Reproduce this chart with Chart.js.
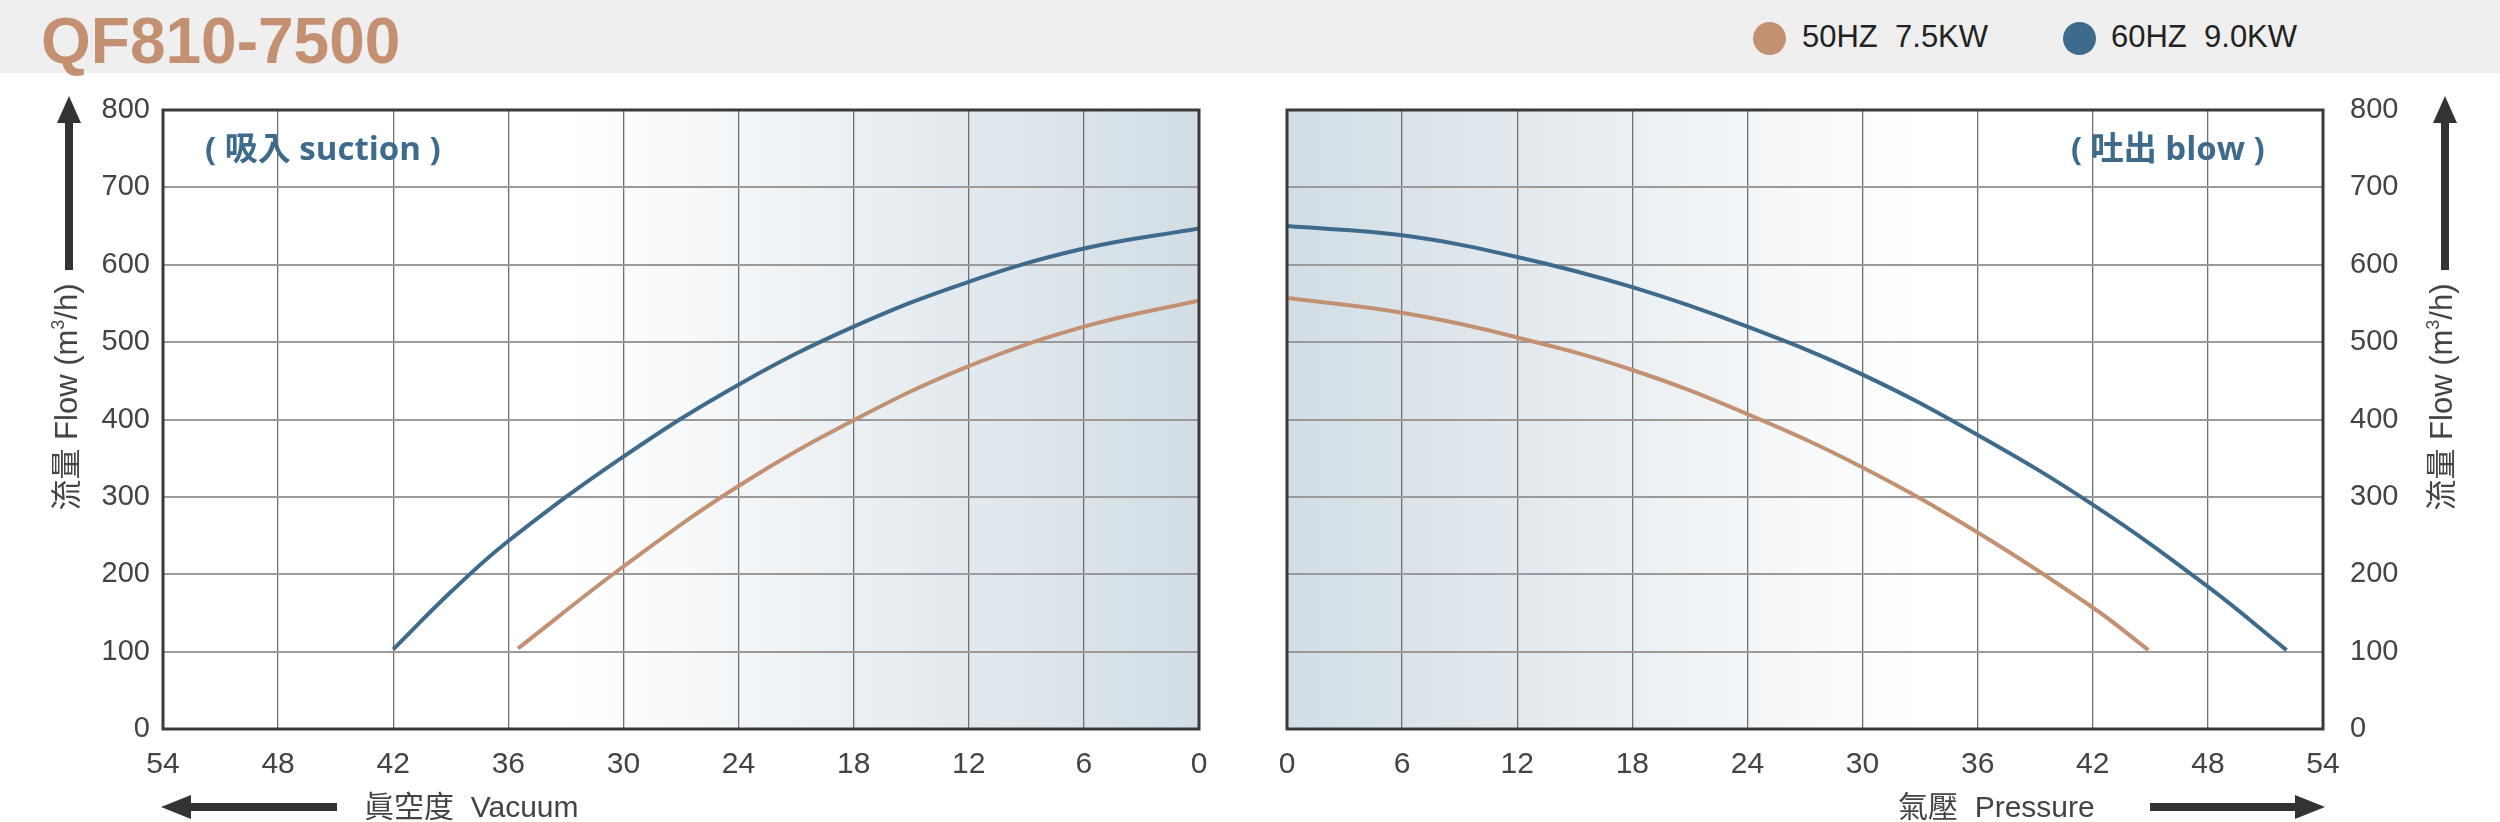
<!DOCTYPE html>
<html>
<head>
<meta charset="utf-8">
<script src="https://cdn.jsdelivr.net/npm/chart.js@4.4.1/dist/chart.umd.min.js"></script>
<style>
  body { margin: 0; width: 2500px; height: 822px; background: #fff; position: relative; overflow: hidden;
         font-family: "Liberation Sans", Arial, "Noto Sans CJK TC", sans-serif; }
  .band { position: absolute; left: 0; top: 0; width: 2500px; height: 73px; background: #efefef; }
  .title { position: absolute; left: 41px; top: 9px; font: bold 64px "Liberation Sans", Arial, sans-serif; color: #c39172; line-height: 1; }
  .dot { position: absolute; width: 33px; height: 33px; border-radius: 50%; }
  .leg { position: absolute; top: 21px; font-size: 31px; color: #222; white-space: pre; line-height: 1; }
  canvas { position: absolute; top: 0; }
  .ytitle { position: absolute; font-size: 31px; color: #444; white-space: nowrap; line-height: 1;
            transform: translate(-50%, -50%) rotate(-90deg); }
  .ytitle sup { font-size: 18px; vertical-align: 13px; line-height: 0; }
  .xtitle { position: absolute; top: 792px; font-size: 30px; color: #444; white-space: pre; line-height: 1;
            font-family: "Liberation Sans", "Noto Sans CJK TC", sans-serif; }
  .side { position: absolute; top: 131px; font: bold 33px "Open Sans", "Noto Sans CJK TC", sans-serif; color: #3e6a8b; white-space: pre; line-height: 1; }
  .shaft { position: absolute; background: #333; }
  .head { position: absolute; width: 0; height: 0; }
</style>
</head>
<body>
<div class="band"></div>
<div class="title">QF810-7500</div>

<div class="dot" style="left:1753px; top:22px; background:#c39172;"></div>
<div class="leg" style="left:1802px;">50HZ  7.5KW</div>
<div class="dot" style="left:2063px; top:22px; background:#3e6a8b;"></div>
<div class="leg" style="left:2111px;">60HZ  9.0KW</div>

<canvas id="chart-suction" width="1243" height="822" style="left:0;"></canvas>
<canvas id="chart-blow" width="1257" height="822" style="left:1243px;"></canvas>

<div class="side" style="left:205px;">( 吸入 suction )</div>
<div class="side" style="left:2071px;">( 吐出 blow )</div>

<!-- flecha eje Y izquierda -->
<div class="head" style="left:57px; top:96px; border-left:12px solid transparent; border-right:12px solid transparent; border-bottom:27px solid #333;"></div>
<div class="shaft" style="left:65px; top:122px; width:8px; height:148px;"></div>
<div class="ytitle" style="left:66px; top:397px;">流量 Flow (m<sup>3</sup>/h)</div>

<!-- flecha eje Y derecha -->
<div class="head" style="left:2433px; top:96px; border-left:12px solid transparent; border-right:12px solid transparent; border-bottom:27px solid #333;"></div>
<div class="shaft" style="left:2441px; top:122px; width:8px; height:148px;"></div>
<div class="ytitle" style="left:2441px; top:397px;">流量 Flow (m<sup>3</sup>/h)</div>

<!-- flechas eje X -->
<div class="head" style="left:161px; top:795px; border-top:12px solid transparent; border-bottom:12px solid transparent; border-right:30px solid #333;"></div>
<div class="shaft" style="left:190px; top:803px; width:147px; height:8px;"></div>
<div class="xtitle" style="left:364px;">眞空度  Vacuum</div>

<div class="xtitle" style="left:1898px;">氣壓  Pressure</div>
<div class="shaft" style="left:2150px; top:803px; width:146px; height:8px;"></div>
<div class="head" style="left:2295px; top:795px; border-top:12px solid transparent; border-bottom:12px solid transparent; border-left:30px solid #333;"></div>

<script>
// Ejes
const xTickValues = [0, 6, 12, 18, 24, 30, 36, 42, 48, 54];
const yTickValues = [0, 100, 200, 300, 400, 500, 600, 700, 800];

// Succión (vacío)
const suctionX50 = [35.5, 30, 24, 18, 12, 6, 0];
const suction50  = [104, 210, 314, 399, 469, 520, 554];
const suctionX60 = [42, 39, 36, 30, 24, 18, 12, 6, 0];
const suction60  = [103, 177, 243, 352, 445, 520, 578, 621, 647];

// Soplado (presión)
const blowX50 = [0, 6, 12, 18, 24, 30, 36, 42, 44.9];
const blow50  = [557, 538, 506, 464, 407, 338, 254, 157, 102];
const blowX60 = [0, 6, 12, 18, 24, 30, 36, 42, 48, 52.1];
const blow60  = [650, 638, 610, 571, 520, 458, 380, 290, 184, 102];

const COLOR_50 = '#c39172';
const COLOR_60 = '#3e6a8b';

function puntos(xs, ys) {
    return xs.map((x, i) => ({ x: x, y: ys[i] }));
}

// Fondo degradado + marco del panel
const panelPlugin = {
    id: 'panel',
    beforeDraw(chart, args, opts) {
        const { ctx, chartArea: a, scales } = chart;
        const x0 = scales.x.getPixelForValue(opts.fadeFrom);
        const x1 = scales.x.getPixelForValue(0);
        const g = ctx.createLinearGradient(x0, 0, x1, 0);
        g.addColorStop(0, 'rgba(210,221,229,0)');
        g.addColorStop(1, 'rgba(210,221,229,1)');
        ctx.save();
        ctx.fillStyle = g;
        ctx.fillRect(a.left, a.top, a.right - a.left, a.bottom - a.top);
        ctx.restore();
    },
    afterDraw(chart) {
        const { ctx, chartArea: a } = chart;
        ctx.save();
        ctx.strokeStyle = '#3a3a3a';
        ctx.lineWidth = 3;
        ctx.strokeRect(a.left, a.top, a.right - a.left, a.bottom - a.top);
        ctx.restore();
    }
};

function crearPanel(id, cfg) {
    const tickFont = { family: 'Liberation Sans', size: 29 };
    return new Chart(document.getElementById(id), {
        type: 'line',
        data: {
            datasets: [
                { label: '50HZ 7.5KW', data: cfg.d50, borderColor: COLOR_50, borderWidth: 4,
                  pointRadius: 0, tension: 0.4, fill: false },
                { label: '60HZ 9.0KW', data: cfg.d60, borderColor: COLOR_60, borderWidth: 4,
                  pointRadius: 0, tension: 0.4, fill: false }
            ]
        },
        options: {
            responsive: false,
            animation: false,
            layout: { padding: cfg.padding },
            plugins: { legend: { display: false }, tooltip: { enabled: false }, panel: { fadeFrom: 33 } },
            scales: {
                x: {
                    type: 'linear', min: 0, max: 54, reverse: cfg.reverse,
                    afterBuildTicks: s => { s.ticks = xTickValues.map(v => ({ value: v })); },
                    afterFit: s => { s.height = 93; },
                    grid: { color: '#707070', lineWidth: 1.3, drawTicks: false },
                    border: { display: false },
                    ticks: { font: { family: 'Liberation Sans', size: 30 }, color: '#444', padding: 18, maxRotation: 0, autoSkip: false }
                },
                y: {
                    min: 0, max: 800, position: cfg.yPos,
                    afterBuildTicks: s => { s.ticks = yTickValues.map(v => ({ value: v })); },
                    afterFit: s => { s.width = cfg.yWidth; },
                    grid: { color: '#9a9a9a', lineWidth: 2, drawTicks: false },
                    border: { display: false },
                    ticks: { font: tickFont, color: '#444', padding: cfg.yPad }
                }
            }
        },
        plugins: [panelPlugin]
    });
}

crearPanel('chart-suction', {
    d50: puntos(suctionX50, suction50),
    d60: puntos(suctionX60, suction60),
    reverse: true, yPos: 'left', yWidth: 163, yPad: 13,
    padding: { top: 110, right: 44, bottom: 0, left: 0 }
});

crearPanel('chart-blow', {
    d50: puntos(blowX50, blow50),
    d60: puntos(blowX60, blow60),
    reverse: false, yPos: 'right', yWidth: 177, yPad: 27,
    padding: { top: 110, right: 0, bottom: 0, left: 44 }
});
</script>
</body>
</html>
